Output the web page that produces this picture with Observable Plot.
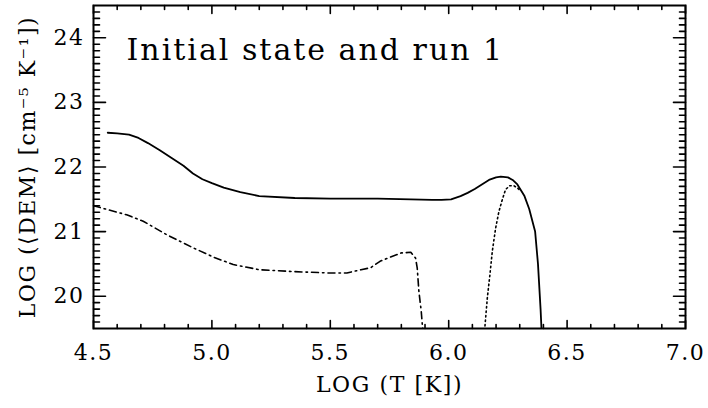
<!DOCTYPE html>
<html>
<head>
<meta charset="utf-8">
<script src="https://cdn.jsdelivr.net/npm/d3@7"></script>
<script src="https://cdn.jsdelivr.net/npm/@observablehq/plot@0.6"></script>
<style>
  html, body { margin: 0; padding: 0; background: #fff; }
  #chart { width: 708px; height: 408px; }
</style>
</head>
<body>
<div id="chart"></div>
<script>
// Data
const solidT   = [4.56, 4.60, 4.65, 4.69, 4.73, 4.78, 4.83, 4.88, 4.92, 4.96, 5.00, 5.05, 5.12, 5.20, 5.35, 5.50, 5.70, 5.84, 5.93, 5.97, 6.01, 6.05, 6.08, 6.11, 6.14, 6.17, 6.20, 6.22, 6.25, 6.27, 6.29, 6.32, 6.34, 6.365, 6.377, 6.388, 6.393];
const solidDEM = [22.53, 22.52, 22.50, 22.45, 22.37, 22.26, 22.14, 22.02, 21.90, 21.81, 21.75, 21.68, 21.61, 21.55, 21.52, 21.51, 21.51, 21.50, 21.49, 21.49, 21.50, 21.55, 21.60, 21.66, 21.73, 21.80, 21.84, 21.85, 21.84, 21.80, 21.73, 21.55, 21.35, 21.00, 20.50, 19.80, 19.40];

const dotT   = [6.150, 6.163, 6.174, 6.184, 6.198, 6.212, 6.226, 6.240, 6.257, 6.275, 6.292, 6.300];
const dotDEM = [19.40, 19.97, 20.33, 20.69, 21.05, 21.31, 21.49, 21.65, 21.71, 21.71, 21.67, 21.64];

const dashT   = [4.50, 4.57, 4.64, 4.71, 4.81, 4.92, 5.01, 5.09, 5.20, 5.35, 5.49, 5.57, 5.63, 5.67, 5.71, 5.75, 5.80, 5.84, 5.86, 5.867, 5.874, 5.884, 5.892];
const dashDEM = [21.40, 21.33, 21.26, 21.16, 20.95, 20.75, 20.60, 20.49, 20.41, 20.38, 20.36, 20.36, 20.41, 20.44, 20.54, 20.60, 20.67, 20.68, 20.59, 20.44, 20.08, 19.77, 19.40];

const xMajor = [4.5, 5.0, 5.5, 6.0, 6.5, 7.0];
const xMajorLabels = ["4.5", "5.0", "5.5", "6.0", "6.5", "7.0"];
const yMajor = [20, 21, 22, 23, 24];
const yMajorLabels = ["20", "21", "22", "23", "24"];
const xMinor = [4.6, 4.7, 4.8, 4.9, 5.1, 5.2, 5.3, 5.4, 5.6, 5.7, 5.8, 5.9, 6.1, 6.2, 6.3, 6.4, 6.6, 6.7, 6.8, 6.9];
const yMinor = [19.6, 19.7, 19.8, 19.9, 20.1, 20.2, 20.3, 20.4, 20.5, 20.6, 20.7, 20.8, 20.9,
  21.1, 21.2, 21.3, 21.4, 21.5, 21.6, 21.7, 21.8, 21.9, 22.1, 22.2, 22.3, 22.4, 22.5, 22.6, 22.7, 22.8, 22.9,
  23.1, 23.2, 23.3, 23.4, 23.5, 23.6, 23.7, 23.8, 23.9, 24.1, 24.2, 24.3, 24.4];

const titleText = "Initial state and run 1";
const xLabel = "LOG (T [K])";
const yLabel = "LOG (⟨DEM⟩ [cm⁻⁵ K⁻¹])";

const toRows = (xs, ys) => xs.map((x, i) => ({T: x, DEM: ys[i]}));
const solid = toRows(solidT, solidDEM);
const dotted = toRows(dotT, dotDEM);
const dashed = toRows(dashT, dashDEM);

const W = 708, H = 408;
const mL = 93, mR = 23, mT = 5, mB = 80;
const xDom = [4.5, 7.0], yDom = [19.5, 24.5];
const font = "DejaVu Serif";
const fs = 22;
const tk = {anchor: "start", shape: "spike", r: 0, stroke: "#000", strokeWidth: 1.6, fill: "none"};

// inward tick: a constant-length spike vector anchored on a frame edge
const xTick = (vals, len, top) => Plot.vector(vals, {x: d => d, y: () => top ? yDom[1] : yDom[0],
  length: len, rotate: top ? 180 : 0, ...tk});
const yTick = (vals, len, right) => Plot.vector(vals, {y: d => d, x: () => right ? xDom[1] : xDom[0],
  length: len, rotate: right ? 270 : 90, ...tk});

const chart = Plot.plot({
  width: W,
  height: H,
  marginLeft: mL,
  marginRight: mR,
  marginTop: mT,
  marginBottom: mB,
  style: {fontFamily: font, fontSize: fs + "px", color: "#000", background: "#fff"},
  x: {domain: xDom, axis: null},
  y: {domain: yDom, axis: null},
  marks: [
    xTick(xMinor, 4, false), xTick(xMinor, 4, true),
    xTick(xMajor, 8, false), xTick(xMajor, 8, true),
    yTick(yMinor, 6, false), yTick(yMinor, 6, true),
    yTick(yMajor, 12, false), yTick(yMajor, 12, true),
    // tick labels
    Plot.text(xMajor, {x: d => d, text: (d, i) => xMajorLabels[i], frameAnchor: "bottom", lineAnchor: "top", dy: 16,
      fontSize: fs, fontFamily: font, fill: "#000"}),
    Plot.text(yMajor, {y: d => d, text: (d, i) => yMajorLabels[i], frameAnchor: "left", textAnchor: "end", dx: -9,
      fontSize: fs, fontFamily: font, fill: "#000"}),
    // axis labels
    Plot.text([xLabel], {frameAnchor: "bottom", textAnchor: "middle", lineAnchor: "top", dy: 48, fontSize: fs, fontFamily: font, fill: "#000"}),
    Plot.text([yLabel], {frameAnchor: "left", textAnchor: "middle", rotate: -90, dx: -66, fontSize: fs, fontFamily: font, fill: "#000"}),
    Plot.frame({stroke: "#000", strokeWidth: 2}),
    Plot.line(solid, {x: "T", y: "DEM", stroke: "#000", strokeWidth: 1.8, clip: true}),
    Plot.line(dashed, {x: "T", y: "DEM", stroke: "#000", strokeWidth: 1.6, strokeDasharray: "7,4,1.5,4", clip: true}),
    Plot.line(dotted, {x: "T", y: "DEM", stroke: "#000", strokeWidth: 1.6, strokeDasharray: "1.5,3", clip: true}),
    Plot.text([titleText], {frameAnchor: "top-left", lineAnchor: "top", dx: 33, dy: 33, fontSize: 30, fontFamily: font,
      textAnchor: "start", fill: "#000"})
  ]
});
// widen the lettering to match the reference's wide plotting font
const spacing = new Map([[titleText, "2px"], [xLabel, "1.6px"], [yLabel, "1.5px"]]);
xMajorLabels.concat(yMajorLabels).forEach(t => spacing.set(t, "1.5px"));
d3.select(chart).selectAll("text").each(function () {
  const s = spacing.get(this.textContent);
  if (s) this.setAttribute("letter-spacing", s);
});
document.getElementById("chart").appendChild(chart);
</script>
</body>
</html>
